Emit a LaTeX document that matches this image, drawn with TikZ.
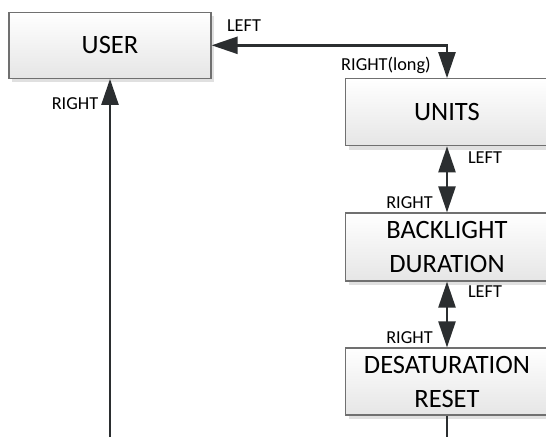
\documentclass[tikz,border=0pt]{standalone}
\usepackage{fontspec}
\setmainfont{Carlito}
\usetikzlibrary{arrows.meta,shadows}
\definecolor{arrc}{HTML}{2B2E30}
\definecolor{boxline}{HTML}{707070}
\tikzset{
  boxst/.style={draw=boxline, line width=1.2pt, top color=white, bottom color=black!10,
    drop shadow={shadow xshift=3pt, shadow yshift=-4pt, fill=black!12, opacity=1},
    minimum width=203pt, minimum height=67pt, align=center, inner sep=0pt,
    font=\fontsize{26.5}{34}\selectfont},
  lbl/.style={font=\fontsize{18.3}{21}\selectfont, inner sep=0pt},
  conn/.style={draw=arrc, line width=2.4pt},
  tip/.style={-{Triangle[length=26pt,width=17pt]}},
  dtip/.style={{Triangle[length=26pt,width=17pt]}-{Triangle[length=26pt,width=17pt]}},
}
\begin{document}
\begin{tikzpicture}[x=1pt,y=-1pt]
\useasboundingbox[fill=white] (0,0) rectangle (546,437);
\node[boxst, minimum width=202pt, minimum height=66pt] (user) at (110,45.3) {USER};
\node[boxst] (units) at (447,112.2) {UNITS};
\node[boxst, minimum height=68pt] (back) at (447,247) {BACKLIGHT\\DURATION};
\node[boxst] (desat) at (447,381.5) {DESATURATION\\RESET};
\coordinate (bl) at (110,437);
\coordinate (br) at (447,437);
\draw[conn,dtip] (user.east) -| (units.north);
\draw[conn,tip] (bl) -- (bl |- user.south);
\draw[conn,dtip] (units.south) -- (back.north);
\draw[conn,dtip] (back.south) -- (desat.north);
\draw[conn] (desat.south) -- (br);
\node[lbl] (l1) at (244,25.5) {LEFT};
\node[lbl] (r1) at (386,65) {RIGHT(long)};
\node[lbl] (r0) at (75,104) {RIGHT};
\node[lbl] (l2) at (485,158) {LEFT};
\node[lbl] (r2) at (409.5,203) {RIGHT};
\node[lbl] (l3) at (485,292) {LEFT};
\node[lbl] (r3) at (409.5,338) {RIGHT};
\end{tikzpicture}
\end{document}
